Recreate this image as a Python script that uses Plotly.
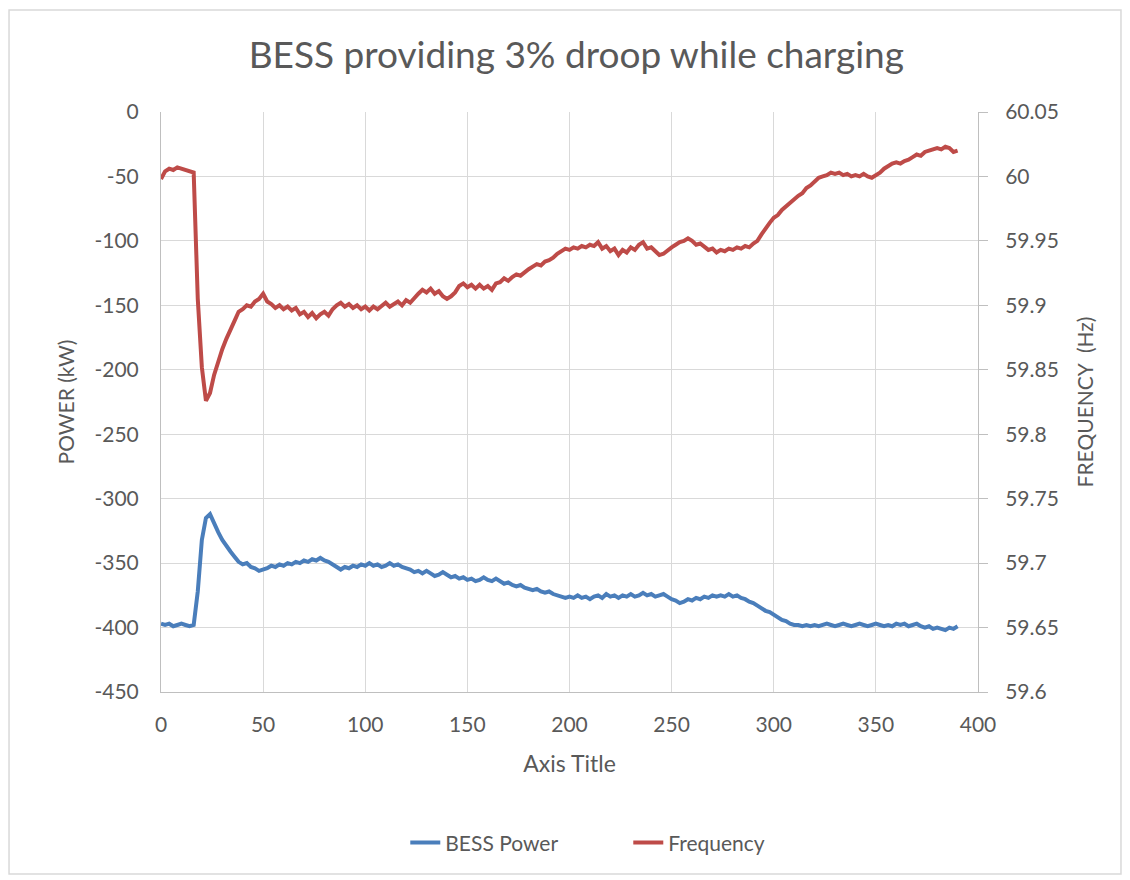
import plotly.graph_objects as go

# Elapsed time (s), sampled every 2 s
time_s = list(range(0, 391, 2))

# BESS active power (kW), negative = charging
bess_power_kw = [
    -397, -398, -397, -399, -398, -397, -398, -399, -398, -372,
    -332, -315, -312, -320, -326, -332, -337, -341, -345, -349,
    -351, -350, -353, -354, -356, -355, -354, -352, -353, -351,
    -352, -350, -351, -349, -350, -348, -349, -347, -348, -346,
    -348, -349, -351, -353, -355, -353, -354, -352, -353, -351,
    -352, -350, -352, -351, -353, -352, -350, -352, -351, -353,
    -354, -355, -357, -356, -358, -356, -358, -360, -359, -357,
    -359, -361, -360, -362, -361, -363, -362, -364, -363, -361,
    -363, -364, -362, -364, -366, -365, -367, -368, -367, -369,
    -370, -371, -370, -372, -373, -372, -374, -375, -376, -377,
    -376, -377, -375, -377, -376, -378, -376, -375, -377, -374,
    -376, -375, -377, -375, -376, -374, -376, -375, -373, -375,
    -374, -376, -375, -374, -376, -378, -379, -381, -380, -378,
    -379, -377, -378, -376, -377, -375, -376, -375, -376, -374,
    -376, -375, -377, -378, -380, -381, -383, -385, -387, -388,
    -390, -392, -394, -395, -397, -398, -398, -399, -398, -399,
    -398, -399, -398, -397, -398, -399, -398, -397, -398, -399,
    -398, -397, -398, -399, -398, -397, -398, -399, -398, -399,
    -397, -398, -397, -399, -398, -397, -399, -400, -399, -401,
    -400, -401, -402, -400, -401, -399,
]

# Grid frequency (Hz)
frequency_hz = [
    59.998, 60.004, 60.006, 60.005, 60.007, 60.006, 60.005, 60.004, 60.003, 59.905,
    59.852, 59.826, 59.832, 59.846, 59.857, 59.866, 59.874, 59.882, 59.888, 59.895,
    59.897, 59.900, 59.899, 59.903, 59.905, 59.909, 59.903, 59.901, 59.898, 59.900,
    59.897, 59.899, 59.896, 59.898, 59.893, 59.895, 59.891, 59.894, 59.890, 59.893,
    59.895, 59.892, 59.897, 59.900, 59.902, 59.899, 59.901, 59.898, 59.900, 59.897,
    59.899, 59.896, 59.899, 59.897, 59.900, 59.902, 59.899, 59.901, 59.903, 59.900,
    59.904, 59.902, 59.906, 59.909, 59.912, 59.910, 59.913, 59.909, 59.911, 59.907,
    59.905, 59.907, 59.910, 59.915, 59.917, 59.914, 59.916, 59.913, 59.916, 59.913,
    59.915, 59.912, 59.917, 59.918, 59.921, 59.919, 59.922, 59.924, 59.923, 59.926,
    59.928, 59.930, 59.932, 59.931, 59.934, 59.935, 59.937, 59.940, 59.942, 59.944,
    59.943, 59.945, 59.944, 59.946, 59.945, 59.947, 59.946, 59.949, 59.944, 59.946,
    59.942, 59.944, 59.939, 59.943, 59.941, 59.945, 59.943, 59.947, 59.949, 59.944,
    59.945, 59.942, 59.939, 59.940, 59.943, 59.945, 59.947, 59.949, 59.950, 59.952,
    59.950, 59.947, 59.948, 59.945, 59.943, 59.944, 59.941, 59.943, 59.942, 59.944,
    59.943, 59.945, 59.944, 59.946, 59.945, 59.948, 59.950, 59.955, 59.960, 59.964,
    59.968, 59.970, 59.974, 59.977, 59.980, 59.982, 59.985, 59.987, 59.991, 59.993,
    59.996, 59.999, 60.000, 60.001, 60.003, 60.002, 60.003, 60.001, 60.002, 60.000,
    60.001, 60.000, 60.002, 60.000, 59.999, 60.001, 60.003, 60.006, 60.008, 60.010,
    60.011, 60.010, 60.012, 60.013, 60.015, 60.017, 60.016, 60.019, 60.020, 60.021,
    60.022, 60.021, 60.023, 60.022, 60.019, 60.020,
]

# Axis ticks
x_ticks = [0, 50, 100, 150, 200, 250, 300, 350, 400]
power_ticks = [0, -50, -100, -150, -200, -250, -300, -350, -400, -450]
freq_ticks = [60.05, 60.0, 59.95, 59.9, 59.85, 59.8, 59.75, 59.7, 59.65, 59.6]

FONT = "Lato"
TXT = "#595959"
GRID = "#D9D9D9"
AXIS = "#BFBFBF"
TICK_SIZE = 21
LABEL_SIZE = 21

fig = go.Figure()
fig.add_trace(go.Scatter(
    x=time_s, y=bess_power_kw, name="BESS Power", mode="lines",
    line=dict(color="#4A7EBB", width=4), yaxis="y",
))
fig.add_trace(go.Scatter(
    x=time_s, y=frequency_hz, name="Frequency", mode="lines",
    line=dict(color="#BE4B48", width=4), yaxis="y2",
))

fig.update_layout(
    width=1130, height=880,
    paper_bgcolor="white", plot_bgcolor="white",
    margin=dict(l=161, r=152, t=112, b=188),
    font=dict(family=FONT, color=TXT, size=TICK_SIZE),
    title=dict(
        text="BESS providing 3% droop while charging",
        font=dict(family=FONT, size=37, color=TXT),
        x=0.51, xanchor="center", y=0.938, yanchor="middle",
    ),
    xaxis=dict(
        range=[0, 400], tickvals=x_ticks,
        showgrid=True, gridcolor=GRID, gridwidth=1,
        showline=True, linecolor=AXIS, linewidth=1,
        ticks="", zeroline=False, ticklabelstandoff=14,
        tickfont=dict(size=TICK_SIZE, color=TXT),
        title=dict(text="Axis Title", font=dict(size=LABEL_SIZE + 2, color=TXT), standoff=20),
    ),
    yaxis=dict(
        range=[-450, 0], tickvals=power_ticks,
        ticktext=[str(v) for v in power_ticks],
        showgrid=True, gridcolor=GRID, gridwidth=1,
        showline=True, linecolor=AXIS, linewidth=1,
        ticks="", zeroline=False, ticklabelstandoff=17,
        tickfont=dict(size=TICK_SIZE, color=TXT),
        title=dict(text="POWER (kW)", font=dict(size=LABEL_SIZE, color=TXT), standoff=14),
    ),
    yaxis2=dict(
        range=[59.6, 60.05], tickvals=freq_ticks,
        ticktext=[f"{v:g}" for v in freq_ticks],
        overlaying="y", side="right",
        showgrid=False, zeroline=False,
        showline=True, linecolor=AXIS, linewidth=1,
        ticks="outside", ticklen=9, tickcolor=AXIS, ticklabelstandoff=13,
        tickfont=dict(size=TICK_SIZE, color=TXT),
        title=dict(text="FREQUENCY  (Hz)", font=dict(size=LABEL_SIZE, color=TXT), standoff=20),
    ),
    legend=dict(
        orientation="h", x=0.299, xanchor="left", y=-0.26, yanchor="middle",
        entrywidth=178, entrywidthmode="pixels",
        font=dict(size=LABEL_SIZE, color=TXT), bgcolor="rgba(0,0,0,0)",
    ),
    showlegend=True,
)

# Outer chart frame
fig.add_shape(
    type="rect", xref="paper", yref="paper",
    x0=-0.186, x1=1.175, y0=-0.314, y1=1.176,
    line=dict(color="#D9D9D9", width=1.5), fillcolor="rgba(0,0,0,0)",
    layer="below",
)

fig.write_html("out.html")
